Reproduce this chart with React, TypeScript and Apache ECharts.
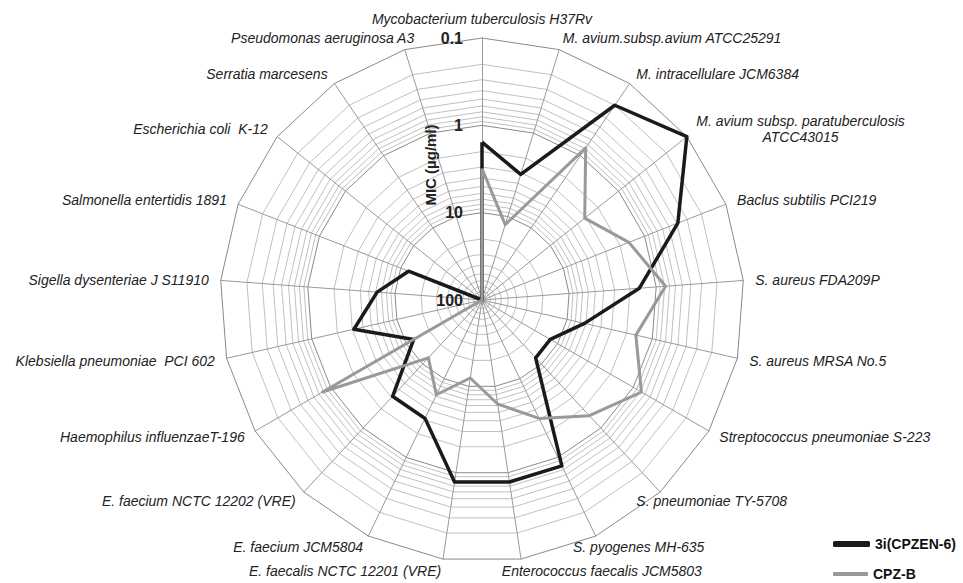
import React, { useEffect, useRef } from 'react';
import * as echarts from 'echarts';

// Strains (clockwise from the top)
const categories = [
  'Mycobacterium tuberculosis H37Rv',
  'M. avium.subsp.avium ATCC25291',
  'M. intracellulare JCM6384',
  'M. avium subsp. paratuberculosis\nATCC43015',
  'Baclus subtilis PCI219',
  'S. aureus FDA209P',
  'S. aureus MRSA No.5',
  'Streptococcus pneumoniae S-223',
  'S. pneumoniae TY-5708',
  'S. pyogenes MH-635',
  'Enterococcus faecalis JCM5803',
  'E. faecalis NCTC 12201 (VRE)',
  'E. faecium JCM5804',
  'E. faecium NCTC 12202 (VRE)',
  'Haemophilus influenzaeT-196',
  'Klebsiella pneumoniae  PCI 602',
  'Sigella dysenteriae J S11910',
  'Salmonella entertidis 1891',
  'Escherichia coli  K-12',
  'Serratia marcesens',
  'Pseudomonas aeruginosa A3',
];

// MIC values (µg/ml)
const cpzen6 = [1.56, 3.13, 0.2, 0.1, 0.39, 1.56, 6.25, 12.5, 12.5, 0.78, 0.78, 0.78, 3.13, 3.13, 12.5, 3.13, 6.25, 12.5, 100, 100, 100];
const cpzB = [3.13, 12.5, 0.78, 3.13, 1.56, 0.78, 1.56, 0.78, 1.56, 3.13, 6.25, 12.5, 6.25, 12.5, 0.78, 100, 100, 100, 100, 100, 100];

const seriesNames = ['3i(CPZEN-6)', 'CPZ-B'];
const seriesColors = ['#1a1a1a', '#999999'];

// Axis ticks (log scale, 100 at the centre, 0.1 at the rim)
const tickValues = [100, 10, 1, 0.1];
const tickLabels = ['100', '10', '1', '0.1'];
const axisTitle = 'MIC (µg/ml)';

const MAX_MIC = 100;
const MIN_MIC = 0.1;
const SPAN = Math.log10(MAX_MIC / MIN_MIC); // 3 decades
const toT = (v: number) => Math.log10(MAX_MIC / v);

const CX = 482;
const CY = 300;
const R = 262;
const FONT = '"Liberation Sans", Arial, Helvetica, sans-serif';

// label nudges (styling only): text padding per strain index
const namePadding: Record<number, number[]> = {
  8: [0, 0, 0, -32],
  9: [0, 0, 0, -28],
  10: [0, 0, 0, -21],
  20: [0, -13, 0, 0],
};

// ECharts lays radar indicators out counter-clockwise; reverse to go clockwise
const order = [0, ...Array.from({ length: categories.length - 1 }, (_, i) => categories.length - 1 - i)];

// minor log rings: 2..9 x each decade
const minorRings: number[] = [];
[10, 1, 0.1].forEach((d) => {
  for (let k = 2; k <= 9; k++) minorRings.push(k * d);
});

function buildOption() {
  const mainRadar: any = {
    center: [CX, CY],
    radius: R,
    startAngle: 90,
    splitNumber: 3,
    shape: 'polygon',
    indicator: order.map((i) => {
      const ind: any = { name: categories[i], min: 0, max: SPAN };
      if (namePadding[i]) ind.nameTextStyle = { padding: namePadding[i] };
      return ind;
    }),
    axisName: {
      color: '#222',
      fontSize: 14,
      fontStyle: 'italic',
      fontFamily: FONT,
      formatter: (n: string) =>
        n.indexOf('\n') >= 0 ? n.split('\n').map((l) => `{c|${l}}`).join('\n') : n,
      rich: {
        c: { align: 'center', fontSize: 14, fontStyle: 'italic', fontFamily: FONT, color: '#222', lineHeight: 16 },
      },
    },
    nameGap: 12,
    axisLine: { show: true, lineStyle: { color: '#9a9a9a', width: 1 } },
    splitLine: { show: true, lineStyle: { color: '#8a8a8a', width: 1 } },
    splitArea: { show: false },
    axisTick: { show: false },
    axisLabel: { show: false },
  };

  const ringRadars = minorRings.map((v) => ({
    center: [CX, CY],
    radius: (R * toT(v)) / SPAN,
    startAngle: 90,
    splitNumber: 1,
    shape: 'polygon',
    indicator: order.map(() => ({ name: '', min: 0, max: 1 })),
    axisName: { show: false },
    axisLine: { show: false },
    splitLine: { show: true, lineStyle: { color: '#b0b0b0', width: 0.8 } },
    splitArea: { show: false },
    axisTick: { show: false },
    axisLabel: { show: false },
    silent: true,
  }));

  const graphics: any[] = tickValues.map((v, i) => ({
    type: 'text',
    x: CX - 19,
    y: CY - (R * toT(v)) / SPAN,
    z: 100,
    style: {
      text: tickLabels[i],
      fontSize: 16,
      fontWeight: 'bold',
      fontFamily: FONT,
      fill: '#222',
      align: 'right',
      verticalAlign: 'middle',
    },
  }));
  graphics.push({
    type: 'text',
    x: 430,
    y: 165,
    rotation: Math.PI / 2,
    z: 100,
    style: {
      text: axisTitle,
      fontSize: 15,
      fontWeight: 'bold',
      fontFamily: FONT,
      fill: '#222',
      align: 'center',
      verticalAlign: 'middle',
    },
  });

  const seriesData = [cpzen6, cpzB];
  const legendText = { fontSize: 14, fontWeight: 'bold', fontFamily: FONT, color: '#111' };

  return {
    animation: false,
    backgroundColor: '#ffffff',
    radar: [...ringRadars, mainRadar],
    legend: [
      {
        orient: 'vertical',
        left: 828,
        top: 532,
        itemWidth: 37,
        itemHeight: 6,
        icon: 'roundRect',
        data: [seriesNames[0]],
        textStyle: legendText,
      },
      {
        orient: 'vertical',
        left: 828,
        top: 562,
        itemWidth: 35,
        itemHeight: 4,
        icon: 'roundRect',
        data: [seriesNames[1]],
        textStyle: legendText,
      },
    ],
    graphic: graphics,
    series: seriesData.map((vals, si) => ({
      type: 'radar',
      radarIndex: ringRadars.length,
      symbol: 'none',
      z: 10 + si,
      data: [
        {
          name: seriesNames[si],
          value: order.map((i) => toT(vals[i])),
          lineStyle: { color: seriesColors[si], width: si === 0 ? 3.5 : 3 },
          itemStyle: { color: seriesColors[si] },
        },
      ],
    })),
  };
}

export default function App() {
  const ref = useRef<HTMLDivElement>(null);
  useEffect(() => {
    if (!ref.current) return;
    const chart = echarts.init(ref.current, null, { renderer: 'svg' });
    chart.setOption(buildOption() as any);
    return () => chart.dispose();
  }, []);
  return (
    <div
      ref={ref}
      style={{ position: 'fixed', left: 0, top: 0, width: 963, height: 583, background: '#fff' }}
    />
  );
}
